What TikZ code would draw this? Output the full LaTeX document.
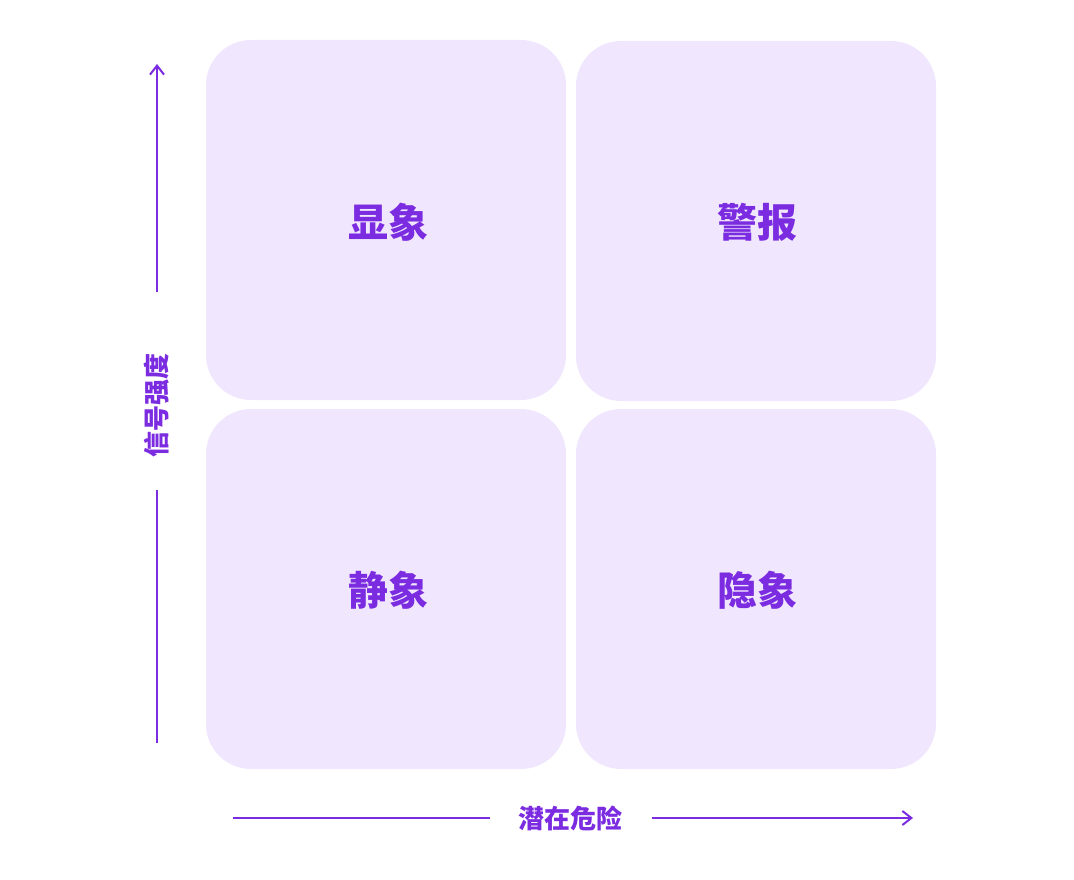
\documentclass[tikz,border=0pt]{standalone}
\usepackage{fontspec}
\newfontfamily\cjk{Noto Sans CJK SC}
\usetikzlibrary{arrows.meta}
\definecolor{boxfill}{HTML}{F0E6FD}
\definecolor{purp}{HTML}{7B2BE0}
\begin{document}
\begin{tikzpicture}[x=1pt,y=-1pt,
  quad/.style={fill=boxfill,rounded corners=45pt},
  qlabel/.style={text=purp,font=\cjk\bfseries\fontsize{40}{48}\selectfont},
  axlabel/.style={text=purp,font=\cjk\bfseries\fontsize{26}{32}\selectfont},
  axis/.style={draw=purp,line width=2pt},
  arr/.style={-{Straight Barb[length=9pt,width=14pt,line width=2pt]}}]
\useasboundingbox (0,0) rectangle (1074,880);
\fill[quad] (206,40) rectangle (566,400);
\fill[quad] (576,41) rectangle (936,401);
\fill[quad] (206,409) rectangle (566,769);
\fill[quad] (576,409) rectangle (936,769);
\node[qlabel] (a) at (388,222) {显象};
\node[qlabel] (b) at (757,222) {警报};
\node[qlabel] (c) at (388,590) {静象};
\node[qlabel] (d) at (757,590) {隐象};
\node[axlabel,rotate=90] (yl) at (157,405) {信号强度};
\node[axlabel] (xl) at (570,818) {潜在危险};
\coordinate (y0) at (157,743);
\coordinate (y1) at (157,64);
\coordinate (x0) at (233,818);
\coordinate (x1) at (913,818);
\draw[axis] (y0) -- (157,490);
\draw[axis,arr] (157,292) -- (y1);
\draw[axis] (x0) -- (490,818);
\draw[axis,arr] (652,818) -- (x1);
\end{tikzpicture}
\end{document}
